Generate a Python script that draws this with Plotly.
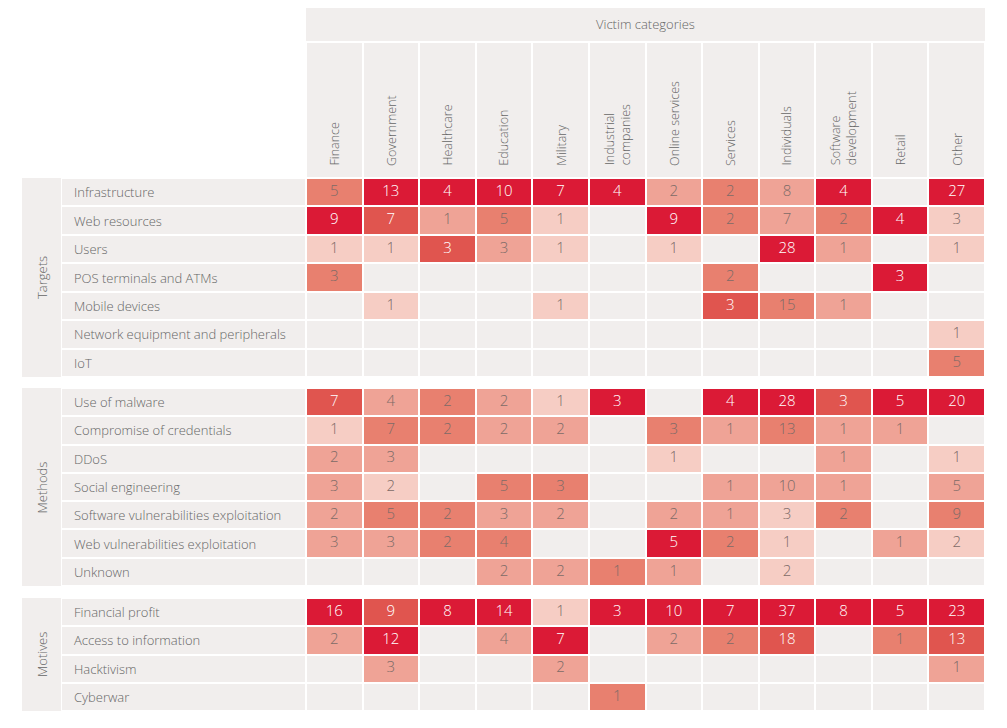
import plotly.graph_objects as go

# victim categories (columns)
categories = ["Finance", "Government", "Healthcare", "Education", "Military",
              "Industrial companies", "Online services", "Services", "Individuals",
              "Software development", "Retail", "Other"]
header_labels = ["Finance", "Government", "Healthcare", "Education", "Military",
                 "Industrial<br>companies", "Online services", "Services", "Individuals",
                 "Software<br>development", "Retail", "Other"]

targets_rows = ["Infrastructure", "Web resources", "Users", "POS terminals and ATMs",
                "Mobile devices", "Network equipment and peripherals", "IoT"]
targets_counts = [
    [5, 13, 4, 10, 7, 4, 2, 2, 8, 4, None, 27],
    [9, 7, 1, 5, 1, None, 9, 2, 7, 2, 4, 3],
    [1, 1, 3, 3, 1, None, 1, None, 28, 1, None, 1],
    [3, None, None, None, None, None, None, 2, None, None, 3, None],
    [None, 1, None, None, 1, None, None, 3, 15, 1, None, None],
    [None, None, None, None, None, None, None, None, None, None, None, 1],
    [None, None, None, None, None, None, None, None, None, None, None, 5],
]
targets_band = [
    [3, 5, 5, 5, 5, 5, 2, 3, 2, 5, 0, 5],
    [5, 4, 2, 3, 1, 0, 5, 3, 2, 3, 5, 1],
    [1, 1, 4, 2, 1, 0, 1, 0, 5, 2, 0, 1],
    [3, 0, 0, 0, 0, 0, 0, 3, 0, 0, 5, 0],
    [0, 1, 0, 0, 1, 0, 0, 4, 3, 2, 0, 0],
    [0, 0, 0, 0, 0, 0, 0, 0, 0, 0, 0, 1],
    [0, 0, 0, 0, 0, 0, 0, 0, 0, 0, 0, 3],
]

methods_rows = ["Use of malware", "Compromise of credentials", "DDoS", "Social engineering",
                "Software vulnerabilities exploitation", "Web vulnerabilities exploitation", "Unknown"]
methods_counts = [
    [7, 4, 2, 2, 1, 3, None, 4, 28, 3, 5, 20],
    [1, 7, 2, 2, 2, None, 3, 1, 13, 1, 1, None],
    [2, 3, None, None, None, None, 1, None, None, 1, None, 1],
    [3, 2, None, 5, 3, None, None, 1, 10, 1, None, 5],
    [2, 5, 2, 3, 2, None, 2, 1, 3, 2, None, 9],
    [3, 3, 2, 4, None, None, 5, 2, 1, None, 1, 2],
    [None, None, None, 2, 2, 1, 1, None, 2, None, None, None],
]
methods_band = [
    [4, 2, 3, 2, 1, 5, 0, 5, 5, 4, 5, 5],
    [1, 3, 3, 2, 2, 0, 3, 2, 3, 2, 2, 0],
    [2, 2, 0, 0, 0, 0, 1, 0, 0, 2, 0, 1],
    [2, 1, 0, 3, 3, 0, 0, 2, 2, 2, 0, 2],
    [2, 3, 3, 2, 2, 0, 2, 2, 1, 3, 0, 3],
    [2, 2, 3, 3, 0, 0, 5, 3, 1, 0, 2, 1],
    [0, 0, 0, 2, 2, 3, 2, 0, 1, 0, 0, 0],
]

motives_rows = ["Financial profit", "Access to information", "Hacktivism", "Cyberwar"]
motives_counts = [
    [16, 9, 8, 14, 1, 3, 10, 7, 37, 8, 5, 23],
    [2, 12, None, 4, 7, None, 2, 2, 18, None, 1, 13],
    [None, 3, None, None, 2, None, None, None, None, None, None, 1],
    [None, None, None, None, None, 1, None, None, None, None, None, None],
]
motives_band = [
    [5, 4, 5, 5, 1, 5, 5, 5, 5, 5, 5, 5],
    [2, 5, 0, 2, 5, 0, 2, 3, 4, 0, 3, 4],
    [0, 2, 0, 0, 2, 0, 0, 0, 0, 0, 0, 2],
    [0, 0, 0, 0, 0, 3, 0, 0, 0, 0, 0, 0],
]

groups = [
    ("Targets", targets_rows, targets_counts, targets_band),
    ("Methods", methods_rows, methods_counts, methods_band),
    ("Motives", motives_rows, motives_counts, motives_band),
]

W, H = 1007, 728
OFF = 8  # the page body adds 8px around the figure
BG = "#f1eeed"
shades = [BG, "#f6cdc4", "#efa396", "#e8806f", "#e0554f", "#db1a36"]
colorscale = []
for i, c in enumerate(shades):
    colorscale.append([i / len(shades), c])
    colorscale.append([(i + 1) / len(shades), c])
grey_scale = [[0, BG], [1, BG]]

FONT = "Open Sans"
LABEL_COL = "#666666"

def px_x(p):
    return (p - OFF) / W

def px_y(p):
    return 1 - (p - OFF) / H

# pixel extents of the blocks (as seen on screen)
data_x = [px_x(306), px_x(985)]
label_x = [px_x(62), px_x(305)]
group_x = [px_x(22), px_x(61)]
group_y = [(178, 377), (388, 586), (598, 711)]

fig = go.Figure()
annotations = []

for gi, (gname, rows, counts, band) in enumerate(groups):
    yname = "y" if gi == 0 else f"y{gi + 1}"
    # coloured data cells
    fig.add_trace(go.Heatmap(
        x=categories, y=rows, z=band, xaxis="x", yaxis=yname,
        colorscale=colorscale, zmin=-0.5, zmax=5.5, showscale=False,
        xgap=2, ygap=2, hoverinfo="skip"))
    # row-label band
    fig.add_trace(go.Heatmap(
        x=[0], y=rows, z=[[0] for _ in rows], xaxis="x2", yaxis=yname,
        colorscale=grey_scale, showscale=False, ygap=2, hoverinfo="skip"))
    # group band
    fig.add_trace(go.Heatmap(
        x=[0], y=rows, z=[[0] for _ in rows], xaxis="x3", yaxis=yname,
        colorscale=grey_scale, showscale=False, ygap=0, hoverinfo="skip"))
    # numbers
    tx, ty, tt, tc = [], [], [], []
    for r, row in enumerate(rows):
        for c, cat in enumerate(categories):
            v = counts[r][c]
            if v is None:
                continue
            tx.append(cat)
            ty.append(row)
            tt.append(str(v))
            tc.append("#ffffff" if band[r][c] >= 4 else "#7d6b67")
    fig.add_trace(go.Scatter(
        x=tx, y=ty, text=tt, mode="text", xaxis="x", yaxis=yname,
        textfont=dict(family=FONT, size=15, color=tc, weight=300),
        hoverinfo="skip", showlegend=False))

    y0, y1 = group_y[gi]
    fig.update_layout(**{
        ("yaxis" if gi == 0 else f"yaxis{gi + 1}"): dict(
            domain=[px_y(y1), px_y(y0)], visible=False, anchor="x",
            categoryorder="array", categoryarray=rows,
            range=[len(rows) - 0.5, -0.5], fixedrange=True)
    })
    for row in rows:
        annotations.append(dict(
            text=row, xref="paper", x=px_x(72), yref=yname, y=row,
            xanchor="left", yanchor="middle", showarrow=False,
            font=dict(family=FONT, size=13, color=LABEL_COL, weight=300)))
    annotations.append(dict(
        text=gname, xref="paper", x=(group_x[0] + group_x[1]) / 2,
        yref=f"{yname} domain", y=0.5, textangle=-90, showarrow=False,
        xanchor="center", yanchor="middle",
        font=dict(family=FONT, size=13, color=LABEL_COL, weight=300)))

# column header cells
fig.add_trace(go.Heatmap(
    x=categories, y=[0], z=[[0] * len(categories)], xaxis="x", yaxis="y4",
    colorscale=grey_scale, showscale=False, xgap=2, hoverinfo="skip"))
# "Victim categories" band
fig.add_trace(go.Heatmap(
    x=categories, y=[0], z=[[0] * len(categories)], xaxis="x", yaxis="y5",
    colorscale=grey_scale, showscale=False, xgap=0, hoverinfo="skip"))

for cat, lab in zip(categories, header_labels):
    annotations.append(dict(
        text=lab, xref="x", x=cat, yref="y4 domain", y=0.07,
        xanchor="center", yanchor="bottom", textangle=-90, align="left",
        showarrow=False,
        font=dict(family=FONT, size=12.5, color=LABEL_COL, weight=300)))
annotations.append(dict(
    text="Victim categories", xref="x domain", x=0.5, yref="y5 domain", y=0.5,
    showarrow=False, font=dict(family=FONT, size=13, color=LABEL_COL, weight=300)))

fig.update_layout(
    width=W, height=H,
    margin=dict(l=0, r=0, t=0, b=0),
    paper_bgcolor="white", plot_bgcolor="white",
    showlegend=False,
    xaxis=dict(domain=data_x, visible=False, fixedrange=True,
               categoryorder="array", categoryarray=categories,
               range=[-0.5, len(categories) - 0.5]),
    xaxis2=dict(domain=label_x, visible=False, fixedrange=True, anchor="y",
                range=[-0.5, 0.5]),
    xaxis3=dict(domain=group_x, visible=False, fixedrange=True, anchor="y",
                range=[-0.5, 0.5]),
    yaxis4=dict(domain=[px_y(177), px_y(43)], visible=False, anchor="x",
                fixedrange=True, range=[-0.5, 0.5]),
    yaxis5=dict(domain=[px_y(41), px_y(8)], visible=False, anchor="x",
                fixedrange=True, range=[-0.5, 0.5]),
    annotations=annotations,
)

fig.write_html("out.html")
